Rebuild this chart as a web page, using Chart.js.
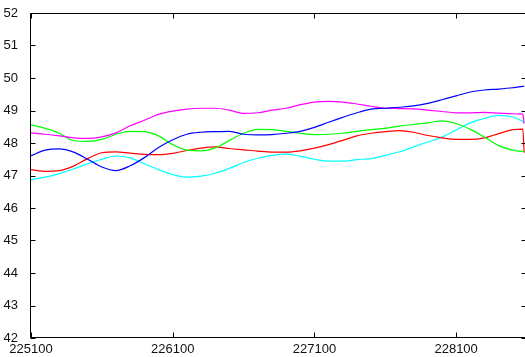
<!DOCTYPE html>
<html>
<head>
<meta charset="utf-8">
<script src="https://cdn.jsdelivr.net/npm/chart.js@4/dist/chart.umd.min.js"></script>
<style>
  html, body { margin: 0; padding: 0; background: #fff; overflow: hidden; }
  #wrap { width: 525px; height: 357px; overflow: hidden; }
</style>
</head>
<body>
<div id="wrap"><canvas id="chart" width="530" height="357"></canvas></div>
<script>
// sample positions along x
const xValues = [225100, 225200, 225300, 225400, 225500, 225600, 225700, 225800, 225900, 226000,
  226100, 226200, 226300, 226400, 226500, 226600, 226700, 226800, 226900, 227000,
  227100, 227200, 227300, 227400, 227500, 227600, 227700, 227800, 227900, 228000,
  228100, 228200, 228300, 228400, 228500, 228570, 228580];

const blueValues = [47.61, 47.78, 47.82, 47.72, 47.50, 47.26, 47.15, 47.30, 47.55, 47.86,
  48.10, 48.27, 48.33, 48.35, 48.36, 48.27, 48.25, 48.26, 48.30, 48.36,
  48.48, 48.64, 48.79, 48.93, 49.04, 49.07, 49.10, 49.14, 49.22, 49.33,
  49.45, 49.57, 49.63, 49.66, 49.70, 49.74, 49.75];

const magentaValues = [48.31, 48.27, 48.22, 48.16, 48.14, 48.19, 48.31, 48.53, 48.70, 48.88,
  48.98, 49.04, 49.07, 49.07, 49.01, 48.91, 48.93, 49.01, 49.07, 49.18,
  49.26, 49.28, 49.26, 49.20, 49.13, 49.07, 49.06, 49.05, 49.01, 48.97,
  48.93, 48.93, 48.94, 48.92, 48.90, 48.89, 48.60];

const greenValues = [48.56, 48.45, 48.30, 48.07, 48.05, 48.11, 48.27, 48.36, 48.35, 48.22,
  47.95, 47.78, 47.76, 47.85, 48.08, 48.30, 48.42, 48.41, 48.36, 48.30,
  48.26, 48.27, 48.30, 48.36, 48.41, 48.45, 48.52, 48.57, 48.62, 48.68,
  48.60, 48.42, 48.18, 47.92, 47.78, 47.74, 47.74];

const redValues = [47.18, 47.13, 47.15, 47.29, 47.52, 47.70, 47.73, 47.69, 47.65, 47.64,
  47.68, 47.77, 47.84, 47.88, 47.83, 47.79, 47.75, 47.72, 47.72, 47.76,
  47.84, 47.95, 48.08, 48.22, 48.30, 48.35, 48.38, 48.33, 48.23, 48.16,
  48.11, 48.11, 48.16, 48.29, 48.41, 48.43, 47.70];

const cyanValues = [46.87, 46.95, 47.06, 47.20, 47.36, 47.50, 47.60, 47.54, 47.36, 47.18,
  47.03, 46.95, 46.98, 47.07, 47.22, 47.40, 47.53, 47.62, 47.66, 47.59,
  47.50, 47.44, 47.44, 47.49, 47.52, 47.62, 47.73, 47.88, 48.03, 48.18,
  48.40, 48.62, 48.76, 48.85, 48.80, 48.66, 48.62];

const xTicks = [225100, 226100, 227100, 228100];
const yMin = 42;
const yMax = 52;

const toPoints = (ys) => ys.map((y, i) => ({ x: xValues[i], y: y }));

const series = [
  { name: "blue", color: "#0000ff", values: blueValues },
  { name: "magenta", color: "#ff00ff", values: magentaValues },
  { name: "green", color: "#00ff00", values: greenValues },
  { name: "red", color: "#ff0000", values: redValues },
  { name: "cyan", color: "#00ffff", values: cyanValues },
];

// box round the plot with inward tick marks, matlab style
const boxPlugin = {
  id: "box",
  afterDatasetsDraw(chart) {
    const { ctx, chartArea: a, scales } = chart;
    const l = Math.round(a.left) - 0.5, r = Math.round(a.right) - 0.5;
    const t = Math.round(a.top) + 0.5, b = Math.round(a.bottom) - 0.5;
    const len = 5;
    ctx.save();
    ctx.strokeStyle = "#000";
    ctx.lineWidth = 1;
    ctx.beginPath();
    ctx.rect(l, t, r - l, b - t);
    scales.y.ticks.forEach(tk => {
      const y = Math.round(scales.y.getPixelForValue(tk.value)) + 0.5;
      ctx.moveTo(l, y); ctx.lineTo(l + len, y);
      ctx.moveTo(r, y); ctx.lineTo(r - len, y);
    });
    scales.x.ticks.forEach(tk => {
      const x = Math.round(scales.x.getPixelForValue(tk.value)) + 0.5;
      ctx.moveTo(x, b); ctx.lineTo(x, b - len);
      ctx.moveTo(x, t); ctx.lineTo(x, t + len);
    });
    ctx.stroke();
    ctx.restore();
  }
};

const tickFont = { family: "'Liberation Sans', Arial, sans-serif", size: 13 };

new Chart(document.getElementById("chart"), {
  type: "line",
  data: {
    datasets: series.map(s => ({
      label: s.name,
      data: toPoints(s.values),
      borderColor: s.color,
      backgroundColor: s.color,
      borderWidth: 1.2,
      pointRadius: 0,
      fill: false,
      cubicInterpolationMode: "monotone",
    })),
  },
  options: {
    responsive: false,
    animation: false,
    layout: { padding: { top: 13, right: 3, left: 0, bottom: 0 } },
    plugins: {
      legend: { display: false },
      tooltip: { enabled: false },
    },
    scales: {
      x: {
        type: "linear",
        min: 225100,
        max: 228600,
        grid: { display: false },
        border: { display: false },
        afterBuildTicks: (scale) => { scale.ticks = xTicks.map(v => ({ value: v })); },
        afterFit: (scale) => { scale.height = 19; },
        ticks: {
          color: "#111",
          font: tickFont,
          padding: -4,
          maxRotation: 0,
          autoSkip: false,
          callback: (v) => String(v),
        },
      },
      y: {
        min: yMin,
        max: yMax,
        grid: { display: false },
        border: { display: false },
        afterFit: (scale) => { scale.width = 31; },
        ticks: {
          stepSize: 1,
          color: "#111",
          font: tickFont,
          padding: 5,
        },
      },
    },
  },
  plugins: [boxPlugin],
});
</script>
</body>
</html>
